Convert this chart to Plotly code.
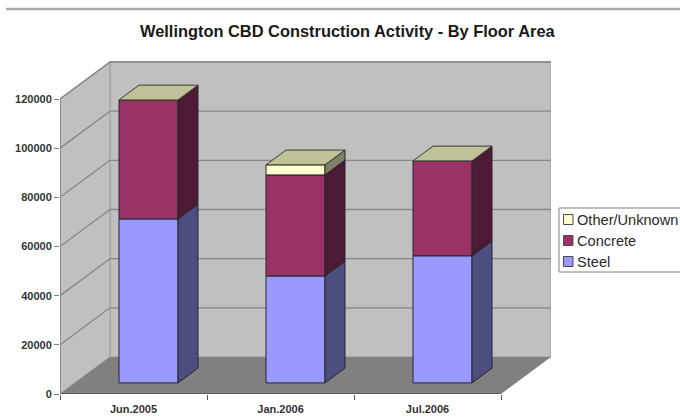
import plotly.graph_objects as go

categories = ["Jun.2005", "Jan.2006", "Jul.2006"]
steel = [66700, 43500, 51700]
concrete = [48400, 41100, 38600]
other = [0, 4100, 0]
y_ticks = [0, 20000, 40000, 60000, 80000, 100000, 120000]

W, H = 680, 418
L, R, T, B = 60, 551, 61, 394
UNIT_X = 147.0
PX_Y = 295 / 120000
DX = 50 / UNIT_X
DY = 37 / PX_Y
BAR_W = 59 / UNIT_X
BAR_INSET = 0.3
BAR_DEPTH = 0.4
YMAX = (B - T) / PX_Y
XMAX = (R - L) / UNIT_X
FONT = "Liberation Sans"
EDGE = "#26262e"

series = [
    ("Steel", steel, "#9999FF", "#4D4D80"),
    ("Concrete", concrete, "#993366", "#4D1A33"),
    ("Other/Unknown", other, "#FFFFCC", "#808066"),
]
TOP_COLOR = "#C0C099"


def poly(xs, ys):
    return "M" + "L".join(f"{x},{y}" for x, y in zip(xs, ys)) + "Z"


shapes = []
wall = dict(type="path", xref="x", yref="y", layer="below")
shapes.append(dict(wall, path=poly([DX, DX + 3, DX + 3, DX], [DY, DY, 120000 + DY, 120000 + DY]),
                   fillcolor="#C0C0C0", line=dict(color="#A6A6A6", width=1.5)))
shapes.append(dict(wall, path=poly([0, DX, DX, 0], [0, DY, 120000 + DY, 120000]),
                   fillcolor="#C0C0C0", line=dict(color="#A6A6A6", width=1.5)))
shapes.append(dict(wall, path=poly([0, 3, 3 + DX, DX], [0, 0, DY, DY]),
                   fillcolor="#808080", line=dict(color="#808080", width=0)))
for v in y_ticks[1:]:
    shapes.append(dict(type="line", xref="x", yref="y", layer="below", x0=0, y0=v, x1=DX, y1=v + DY,
                       line=dict(color="#868686", width=1.3)))
    shapes.append(dict(type="line", xref="x", yref="y", layer="below", x0=DX, y0=v + DY, x1=DX + 3, y1=v + DY,
                       line=dict(color="#868686", width=1.3)))
# axis lines
shapes.append(dict(type="line", xref="x", yref="y", x0=0, y0=0, x1=0, y1=120000,
                   line=dict(color="#808080", width=1.3)))
shapes.append(dict(type="line", xref="x", yref="y", x0=0, y0=0, x1=3, y1=0,
                   line=dict(color="#555555", width=1.3)))

fig = go.Figure()
lift = BAR_INSET * DY
bar_x = [i + 0.5 + 15 / UNIT_X for i in range(3)]
bottoms = [lift] * 3

for name, vals, color, side in series:
    xs = [bar_x[i] for i in range(3) if vals[i] > 0]
    ys = [vals[i] for i in range(3) if vals[i] > 0]
    bs = [bottoms[i] for i in range(3) if vals[i] > 0]
    fig.add_trace(go.Bar(x=xs, y=ys, base=bs, width=BAR_W, name=name,
                         marker=dict(color=color, line=dict(color=EDGE, width=1)), showlegend=False))
    for i in range(3):
        if vals[i] <= 0:
            continue
        xr = bar_x[i] + BAR_W / 2
        y0, y1 = bottoms[i], bottoms[i] + vals[i]
        ddx, ddy = BAR_DEPTH * DX, BAR_DEPTH * DY
        fig.add_trace(go.Scatter(
            x=[xr, xr + ddx, xr + ddx, xr, xr], y=[y0, y0 + ddy, y1 + ddy, y1, y0],
            mode="lines", fill="toself", fillcolor=side, line=dict(color=EDGE, width=1),
            hoverinfo="skip", showlegend=False))
    bottoms = [bottoms[i] + vals[i] for i in range(3)]

for i in range(3):
    xl, xr = bar_x[i] - BAR_W / 2, bar_x[i] + BAR_W / 2
    yt = bottoms[i]
    ddx, ddy = BAR_DEPTH * DX, BAR_DEPTH * DY
    fig.add_trace(go.Scatter(
        x=[xl, xr, xr + ddx, xl + ddx, xl], y=[yt, yt, yt + ddy, yt + ddy, yt],
        mode="lines", fill="toself", fillcolor=TOP_COLOR, line=dict(color="#3a3a30", width=1),
        hoverinfo="skip", showlegend=False))


def px(x):
    return (x - L) / (R - L)


def py(y):
    return (B - y) / (B - T)


# rule at the top of the picture
shapes.append(dict(type="line", xref="paper", yref="paper", x0=px(6), x1=px(680), y0=py(9), y1=py(9),
                   line=dict(color="#ABABAB", width=2.5)))
# legend
shapes.append(dict(type="rect", xref="paper", yref="paper", x0=px(559), x1=px(690), y0=py(272), y1=py(208),
                   line=dict(color="#808080", width=1), fillcolor="white"))
annotations = []
for (name, _, color, _s), yc in zip(series, [261.5, 240.5, 219.5]):
    shapes.append(dict(type="rect", xref="paper", yref="paper", x0=px(563.5), x1=px(573), y0=py(yc + 5), y1=py(yc - 5),
                       fillcolor=color, line=dict(color="#4a4a4a", width=1)))
    annotations.append(dict(xref="paper", yref="paper", x=px(575), y=py(yc), xanchor="left", yanchor="middle",
                            text=name, showarrow=False, font=dict(family=FONT, size=14.6, color="#2a2a2a")))
annotations.append(dict(xref="paper", yref="paper", x=px(348), y=py(31), xanchor="center", yanchor="middle",
                        text="<b>Wellington CBD Construction Activity - By Floor Area</b>", showarrow=False,
                        font=dict(family=FONT, size=16.4, color="#1a1a1a")))

fig.update_layout(
    width=W, height=H,
    autosize=False,
    margin=dict(l=L, r=W - R, t=T, b=H - B, pad=0, autoexpand=False),
    paper_bgcolor="white", plot_bgcolor="white",
    barmode="overlay", showlegend=False,
    shapes=shapes, annotations=annotations,
    xaxis=dict(range=[0, XMAX], automargin=False, tickmode="array", tickvals=[0.5, 1.5, 2.5],
               ticktext=[f"<b>{c}</b>" for c in categories],
               ticks="outside", ticklen=5, tickcolor="rgba(0,0,0,0)", showgrid=False, zeroline=False, showline=False,
               tickfont=dict(family=FONT, size=11, color="#333333"), tickangle=0,
               minor=dict(tickmode="array", tickvals=[0, 1, 2, 3], ticks="outside", ticklen=5, tickcolor="#555555", showgrid=False)),
    yaxis=dict(range=[0, YMAX], automargin=False, tickmode="array", tickvals=y_ticks, ticktext=[f"<b>{v}</b>" for v in y_ticks],
               ticks="outside", ticklen=5, tickcolor="#808080", showgrid=False, zeroline=False, showline=False,
               tickfont=dict(family=FONT, size=11, color="#333333")),
)

fig.write_html("out.html", config={"displayModeBar": False},
               post_script="document.body.style.margin='0';document.body.style.overflow='hidden';")
